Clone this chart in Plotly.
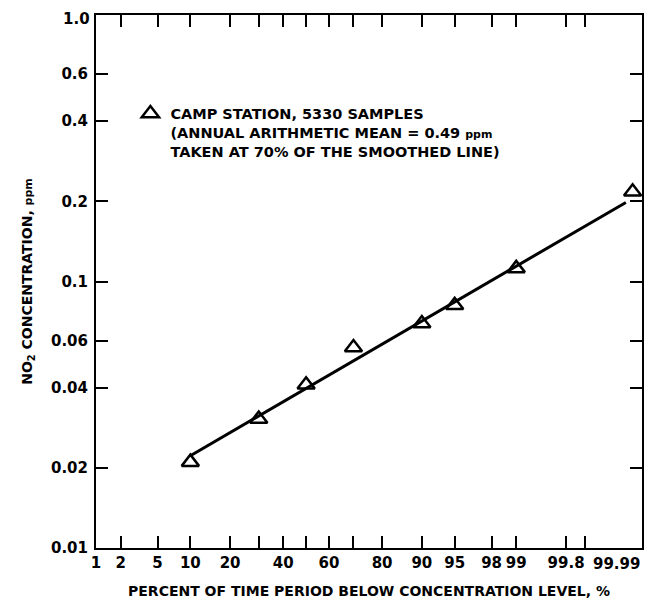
from statistics import NormalDist
import plotly.graph_objects as go

# ---- data ----
pct = [10, 30, 50, 70, 90, 95, 99, 99.985]          # percent of time below level
conc = [0.021, 0.0305, 0.041, 0.0565, 0.0695, 0.0815, 0.112, 0.217]  # NO2 ppm
fit_pct = [10, 99.98]
fit_conc = [0.0222, 0.198]

x_tick_pct = [1, 2, 5, 10, 20, 30, 40, 50, 60, 70, 80, 90, 95, 98, 99, 99.8, 99.9, 99.99]
x_tick_text = ["1", "2", "5", "10", "20", "", "40", "", "60", "", "80", "90", "95", "98", "99", "99.8", "", ""]
y_tick_vals = [0.01, 0.02, 0.04, 0.06, 0.1, 0.2, 0.4, 0.6, 1.0]
y_tick_text = ["0.01", "0.02", "0.04", "0.06", "0.1", "0.2", "0.4", "0.6", ""]
y_top_label = "1.0"
x_right_label = "99.99"

nd = NormalDist()
def prob(p):
    return nd.inv_cdf(p / 100.0)

FONT = "DejaVu Sans"
BOLD = dict(family=FONT, color="black", weight="bold")

fig = go.Figure()
fig.add_trace(go.Scatter(
    x=[prob(p) for p in fit_pct], y=fit_conc, mode="lines",
    line=dict(color="black", width=3), showlegend=False, hoverinfo="skip"))
fig.add_trace(go.Scatter(
    x=[prob(p) for p in pct], y=conc, mode="markers",
    marker=dict(symbol="triangle-up-open", size=15, color="black",
                line=dict(color="black", width=2.5)),
    name="CAMP STATION, 5330 SAMPLES<br>(ANNUAL ARITHMETIC MEAN = 0.49 <span style='font-size:11px'>ppm</span><br>TAKEN AT 70% OF THE SMOOTHED LINE)",
    showlegend=True))

# the page body adds an 8px margin, so the figure is sized to fit the 657x600 window
fig.update_layout(
    width=649, height=592,
    margin=dict(l=88, r=15, t=7, b=52),
    paper_bgcolor="white", plot_bgcolor="white",
    font=dict(family=FONT, color="black", size=13),
    legend=dict(x=0.063, xanchor="left", y=0.845, yanchor="top",
                bgcolor="rgba(0,0,0,0)", valign="top",
                font=dict(size=14.5, **BOLD),
                itemsizing="trace"),
    xaxis=dict(
        range=[prob(1), prob(99.99)], automargin=False,
        tickmode="array", tickvals=[prob(p) for p in x_tick_pct], ticktext=x_tick_text,
        ticks="inside", ticklen=12, tickwidth=2, tickcolor="black",
        showline=True, linecolor="black", linewidth=2, mirror="ticks",
        showgrid=False, zeroline=False,
        tickfont=dict(size=15, **BOLD),
        title=dict(text="PERCENT OF TIME PERIOD BELOW CONCENTRATION LEVEL, %",
                   font=dict(size=14, **BOLD)),
    ),
    yaxis=dict(
        type="log", range=[-2, 0], automargin=False,
        tickmode="array", tickvals=y_tick_vals, ticktext=y_tick_text,
        ticks="inside", ticklen=12, tickwidth=2, tickcolor="black",
        showline=True, linecolor="black", linewidth=2, mirror="ticks",
        showgrid=False, zeroline=False, ticklabelstandoff=3,
        tickfont=dict(size=15, **BOLD),
        title=dict(text="NO<sub>2</sub> CONCENTRATION, <span style='font-size:11px'>ppm</span>",
                   font=dict(size=14, **BOLD)),
    ),
)
fig.add_annotation(text=x_right_label, xref="paper", yref="paper", x=1.0, y=0,
                   xanchor="right", yanchor="top", yshift=-5, showarrow=False,
                   font=dict(size=15, **BOLD))
fig.add_annotation(text=y_top_label, xref="paper", yref="paper", x=0, y=1,
                   xanchor="right", yanchor="top", xshift=-4, yshift=7,
                   showarrow=False, font=dict(size=15, **BOLD))

fig.write_html("out.html")
